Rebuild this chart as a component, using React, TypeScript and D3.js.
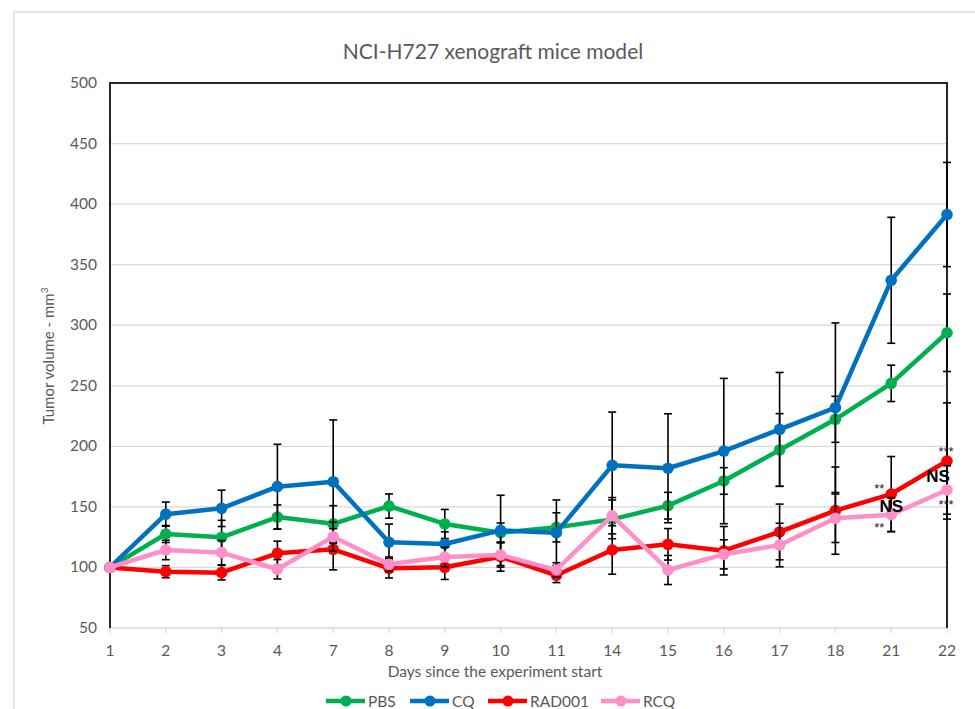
import React from "react";
import * as d3 from "d3";

// days on the x axis (categorical, equally spaced)
const days = ["1", "2", "3", "4", "7", "8", "9", "10", "11", "14", "15", "16", "17", "18", "21", "22"];

// mean tumour volume per group (mm3)
const pbs = [100, 127.6, 124.9, 141.6, 136, 150.7, 135.9, 128.7, 133.1, 139.7, 151, 171.4, 197, 222.3, 252, 293.8];
const cq = [100, 144, 148.8, 166.7, 170.8, 120.8, 119.4, 130.6, 128.7, 184.3, 181.9, 196.1, 214, 231.9, 337.1, 391.4];
const rad001 = [100, 96.5, 95.7, 111.7, 115, 99.3, 100.1, 108.9, 93.5, 114.4, 119.1, 113.8, 129.3, 146.9, 160.6, 187.9];
const rcq = [100, 114.4, 112.2, 98.5, 125.4, 102.6, 108.6, 110.3, 97.9, 142.7, 97.9, 110.8, 118.5, 140.6, 143.6, 164];

// error bar half-widths
const pbsErr = [0, 7, 14, 10, 15, 10, 12, 8, 12, 16, 11, 11, 30, 19, 15, 32];
const cqErr = [0, 10, 15, 35, 51, 15, 10, 29, 27, 44, 45, 60, 47, 70, 52, 43];
const rad001Err = [0, 5, 6, 10, 17, 8, 10, 12, 6, 20, 13, 20, 23, 36, 31, 48];
const rcqErr = [0, 8, 10, 8, 12, 6, 8, 10, 6, 15, 12, 12, 18, 20, 14, 20];

const yTicks = [50, 100, 150, 200, 250, 300, 350, 400, 450, 500];

// significance marks next to the last two days
const marks = [
  { day: "21", s: 2, text: "**", where: "above" },
  { day: "21", s: 3, text: "NS", where: "ns" },
  { day: "21", s: 3, text: "**", where: "below" },
  { day: "22", s: 2, text: "***", where: "above" },
  { day: "22", s: 2, text: "NS", where: "ns" },
  { day: "22", s: 3, text: "***", where: "below" },
];

const series = [
  { name: "PBS", color: "#00b050", values: pbs, err: pbsErr },
  { name: "CQ", color: "#0070c0", values: cq, err: cqErr },
  { name: "RAD001", color: "#ff0000", values: rad001, err: rad001Err },
  { name: "RCQ", color: "#ff8fc8", values: rcq, err: rcqErr },
];

const W = 975;
const H = 709;
const M = { left: 110, right: 947, top: 83, bottom: 628 };
const FONT = "Lato, 'Open Sans', sans-serif";
const GREY = "#595959";

// label offsets (px) for the significance marks, by day and placement
const markOffset: Record<string, { dx: number; dy: number }> = {
  "21above": { dx: -12, dy: -1 },
  "21ns": { dx: 0, dy: -3 },
  "21below": { dx: -12, dy: 17 },
  "22above": { dx: -1, dy: -5 },
  "22ns": { dx: -9, dy: 21 },
  "22below": { dx: -1, dy: 19 },
};

export default function App() {
  const x = d3.scalePoint<string>().domain(days).range([M.left, M.right]).padding(0);
  const y = d3.scaleLinear().domain([50, 500]).range([M.bottom, M.top]);

  const line = d3
    .line<number>()
    .x((_, i) => x(days[i]) as number)
    .y((d) => y(d));

  const legendX = [326, 410, 488, 601];
  const legendY = 701;

  return (
    <svg
      width={W}
      height={H}
      style={{ position: "absolute", left: 0, top: 0, background: "#fff" }}
      fontFamily={FONT}
    >
      {/* outer chart border */}
      <rect x={14} y={12} width={W} height={H} fill="#fff" stroke="#d9d9d9" strokeWidth={1.2} />

      <text x={493} y={59} textAnchor="middle" fontSize={21} fill={GREY}>
        NCI-H727 xenograft mice model
      </text>

      {/* gridlines */}
      {yTicks.map((t) => (
        <line key={t} x1={M.left} x2={M.right} y1={y(t)} y2={y(t)} stroke="#d9d9d9" strokeWidth={1.3} />
      ))}
      {/* category ticks on bottom axis */}
      {days.map((d) => (
        <line key={d} x1={x(d)} x2={x(d)} y1={M.bottom} y2={M.bottom + 5} stroke="#d9d9d9" strokeWidth={1.3} />
      ))}

      {/* frame: left, top, right */}
      <path
        d={`M${M.left},${M.bottom}V${M.top}H${M.right}V${M.bottom}`}
        fill="none"
        stroke="#262626"
        strokeWidth={2}
      />

      {/* y tick labels */}
      {yTicks.map((t) => (
        <text key={t} x={97} y={y(t) + 5} textAnchor="end" fontSize={15.5} fill={GREY}>
          {t}
        </text>
      ))}
      {/* x tick labels */}
      {days.map((d) => (
        <text key={d} x={x(d)} y={656} textAnchor="middle" fontSize={15.5} fill={GREY}>
          {d}
        </text>
      ))}

      <text x={495} y={677} textAnchor="middle" fontSize={15.5} fill={GREY}>
        Days since the experiment start
      </text>
      <text transform="translate(54,356) rotate(-90)" textAnchor="middle" fontSize={15} fill={GREY}>
        Tumor volume - mm
        <tspan fontSize={10} dy={-6}>3</tspan>
      </text>

      {/* series */}
      {series.map((s) => (
        <g key={s.name}>
          {s.values.map((v, i) =>
            s.err[i] > 0 ? (
              <g key={i} stroke="#000" strokeWidth={1.6}>
                <line x1={x(days[i])} x2={x(days[i])} y1={y(v - s.err[i])} y2={y(v + s.err[i])} />
                <line
                  x1={(x(days[i]) as number) - 4}
                  x2={(x(days[i]) as number) + 4}
                  y1={y(v - s.err[i])}
                  y2={y(v - s.err[i])}
                />
                <line
                  x1={(x(days[i]) as number) - 4}
                  x2={(x(days[i]) as number) + 4}
                  y1={y(v + s.err[i])}
                  y2={y(v + s.err[i])}
                />
              </g>
            ) : null
          )}
          <path d={line(s.values) ?? ""} fill="none" stroke={s.color} strokeWidth={4.5} strokeLinejoin="round" />
          {s.values.map((v, i) => (
            <circle key={i} cx={x(days[i])} cy={y(v)} r={5.8} fill={s.color} />
          ))}
        </g>
      ))}

      {/* significance annotations */}
      {marks.map((m, k) => {
        const s = series[m.s];
        const i = days.indexOf(m.day);
        const off = markOffset[m.day + m.where];
        const cx = (x(m.day) as number) + off.dx;
        const cy = y(s.values[i]) + off.dy;
        const isNs = m.where === "ns";
        return (
          <text
            key={k}
            x={cx}
            y={cy}
            textAnchor="middle"
            fontFamily="'Liberation Sans', Arial, sans-serif"
            fontWeight={isNs ? "bold" : "normal"}
            fontSize={isNs ? 17 : 13}
            fill={isNs ? "#000" : "#222"}
          >
            {m.text}
          </text>
        );
      })}

      {/* legend */}
      {series.map((s, k) => (
        <g key={s.name} transform={`translate(${legendX[k]},${legendY})`}>
          <line x1={0} x2={39} y1={0} y2={0} stroke={s.color} strokeWidth={4.5} />
          <circle cx={20} cy={0} r={5.5} fill={s.color} />
          <text x={42} y={5.5} fontSize={15.5} fill={GREY}>
            {s.name}
          </text>
        </g>
      ))}
    </svg>
  );
}
